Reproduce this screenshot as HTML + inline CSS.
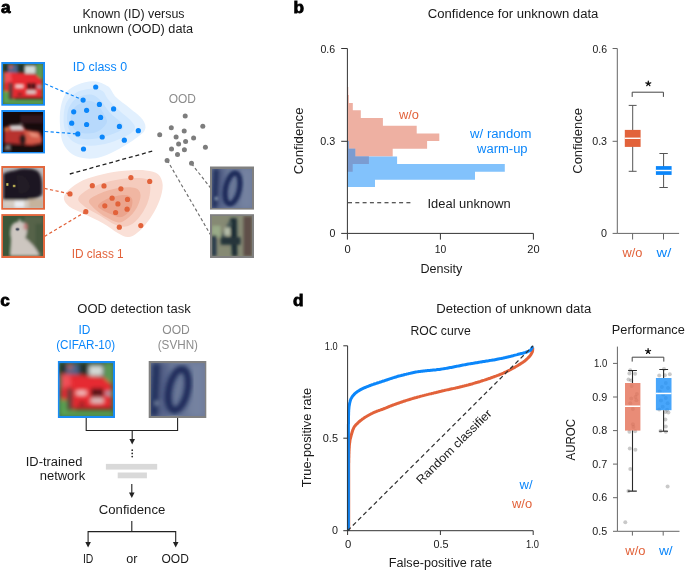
<!DOCTYPE html><html><head><meta charset="utf-8"><style>html,body{margin:0;padding:0;background:#fff;}svg{display:block;will-change:transform;}text{font-family:"Liberation Sans",sans-serif;}</style></head><body>
<svg width="685" height="570" viewBox="0 0 685 570">
<defs><filter id="bl" x="-5%" y="-5%" width="110%" height="110%"><feGaussianBlur stdDeviation="1.5"/></filter><filter id="bl2" x="-5%" y="-5%" width="110%" height="110%"><feGaussianBlur stdDeviation="0.7"/></filter><filter id="bl4" x="-5%" y="-5%" width="110%" height="110%"><feGaussianBlur stdDeviation="1.8"/></filter><filter id="bl3" x="-5%" y="-5%" width="110%" height="110%"><feGaussianBlur stdDeviation="2.2"/></filter></defs>
<rect width="685" height="570" fill="#fff"/>
<text x="0.9" y="13.1" font-size="17.2" fill="#000" text-anchor="start" font-weight="bold" stroke="#000" stroke-width="0.8">a</text>
<text x="293.4" y="13.1" font-size="17.2" fill="#000" text-anchor="start" font-weight="bold" stroke="#000" stroke-width="0.8">b</text>
<text x="0.3" y="305.5" font-size="17.2" fill="#000" text-anchor="start" font-weight="bold" stroke="#000" stroke-width="0.8">c</text>
<text x="293" y="305.7" font-size="17.2" fill="#000" text-anchor="start" font-weight="bold" stroke="#000" stroke-width="0.8">d</text>
<text x="82.5" y="18.2" font-size="12.0" fill="#1a1a1a" text-anchor="start" textLength="102.0" lengthAdjust="spacingAndGlyphs" >Known (ID) versus</text>
<text x="73.1" y="32.8" font-size="12.0" fill="#1a1a1a" text-anchor="start" textLength="119.98" lengthAdjust="spacingAndGlyphs" >unknown (OOD) data</text>
<text x="72.7" y="70.5" font-size="12.0" fill="#0b86fa" text-anchor="start" textLength="54.4" lengthAdjust="spacingAndGlyphs" >ID class 0</text>
<text x="71.7" y="257.5" font-size="12.0" fill="#e2623a" text-anchor="start" textLength="52.0" lengthAdjust="spacingAndGlyphs" >ID class 1</text>
<text x="168.7" y="103" font-size="12.0" fill="#8c8c8c" text-anchor="start" textLength="27.2" lengthAdjust="spacingAndGlyphs" >OOD</text>
<path d="M93.9,81.2 C88.9,80.9 82.6,82.6 78.0,84.5 C73.4,86.4 69.4,88.7 66.5,92.4 C63.6,96.1 61.9,101.3 60.8,106.8 C59.7,112.3 59.6,119.5 60.0,125.5 C60.4,131.5 60.9,138.0 62.9,142.8 C65.0,147.6 68.3,151.7 72.3,154.3 C76.3,156.9 81.7,158.2 86.7,158.6 C91.7,159.0 97.0,158.2 102.5,156.5 C108.0,154.8 114.3,151.5 119.8,148.5 C125.3,145.5 131.4,141.6 135.6,138.5 C139.8,135.4 143.8,132.9 145.0,129.8 C146.2,126.7 145.3,123.3 142.8,119.7 C140.3,116.1 134.5,112.0 129.9,108.2 C125.4,104.4 119.1,100.3 115.5,96.7 C111.9,93.1 111.9,89.2 108.3,86.6 C104.7,84.0 99.0,81.5 93.9,81.2Z" fill="#e2f0fe"/>
<path d="M92.4,88.8 C88.1,89.0 80.9,90.1 76.6,92.4 C72.3,94.7 68.7,98.2 66.5,102.5 C64.3,106.8 63.7,113.3 63.6,118.3 C63.5,123.3 63.9,128.6 65.8,132.7 C67.7,136.8 71.0,140.6 75.2,142.8 C79.4,145.0 85.2,145.7 91.0,145.7 C96.8,145.7 103.7,144.5 109.7,142.8 C115.7,141.1 122.8,138.0 127.0,135.6 C131.2,133.2 134.2,130.8 134.9,128.4 C135.6,126.0 133.8,124.1 131.3,121.2 C128.8,118.3 123.6,114.7 119.8,111.1 C116.0,107.5 111.2,102.9 108.3,99.6 C105.4,96.2 105.2,92.8 102.5,91.0 C99.8,89.2 96.7,88.6 92.4,88.8Z" fill="#d2e8fe"/>
<path d="M91.0,94.6 C86.9,94.1 80.3,95.9 76.6,98.2 C72.9,100.5 70.3,104.4 68.7,108.2 C67.1,112.0 66.9,117.1 67.2,121.2 C67.5,125.3 68.5,129.8 70.8,132.7 C73.1,135.6 76.6,137.5 80.9,138.5 C85.2,139.5 91.4,139.2 96.7,138.5 C102.0,137.8 108.3,135.8 112.6,134.1 C116.9,132.4 121.3,130.3 122.7,128.4 C124.1,126.5 123.4,125.2 121.2,122.6 C119.0,119.9 113.1,116.1 109.7,112.5 C106.3,108.9 104.2,104.0 101.1,101.0 C98.0,98.0 95.1,95.1 91.0,94.6Z" fill="#c3e0fd"/>
<path d="M88.1,101.0 C84.5,101.5 78.1,104.1 75.2,106.8 C72.3,109.5 71.0,113.3 70.8,116.9 C70.5,120.5 71.3,125.7 73.7,128.4 C76.1,131.2 81.1,132.9 85.2,133.4 C89.3,133.9 94.6,133.1 98.2,131.3 C101.8,129.5 105.8,125.5 106.8,122.6 C107.8,119.7 105.6,117.1 103.9,114.0 C102.2,110.9 99.3,106.1 96.7,103.9 C94.1,101.7 91.7,100.5 88.1,101.0Z" fill="#b7d9fc"/>
<path d="M63.8,198.0 C63.8,195.2 66.0,192.4 69.2,189.5 C72.4,186.6 77.4,182.9 83.0,180.3 C88.6,177.8 96.0,175.8 102.9,174.2 C109.8,172.6 117.2,171.4 124.4,170.8 C131.6,170.2 140.2,169.8 145.8,170.4 C151.4,171.0 155.3,171.8 158.1,174.2 C160.9,176.6 162.4,180.6 162.7,184.9 C162.9,189.2 161.4,195.2 159.6,200.3 C157.8,205.4 155.1,210.8 152.0,215.6 C148.9,220.4 145.0,225.8 141.2,229.4 C137.4,233.0 132.8,236.4 129.0,237.0 C125.2,237.6 122.5,235.5 118.2,233.2 C113.9,230.9 108.5,226.4 102.9,223.2 C97.3,220.0 90.1,216.8 84.5,214.0 C78.9,211.2 72.7,209.1 69.2,206.4 C65.8,203.7 63.8,200.8 63.8,198.0Z" fill="#fae0d7"/>
<path d="M78.4,198.0 C79.4,194.9 85.3,190.8 90.7,188.0 C96.1,185.2 103.7,182.8 110.6,181.1 C117.5,179.4 125.9,178.2 132.0,178.0 C138.1,177.8 144.3,177.9 147.4,179.6 C150.5,181.3 150.4,184.1 150.4,188.0 C150.4,191.9 149.4,198.2 147.4,203.3 C145.4,208.4 141.5,214.8 138.2,218.6 C134.9,222.4 131.2,225.3 127.4,226.3 C123.6,227.3 119.8,226.6 115.2,224.8 C110.6,223.0 105.0,218.7 99.9,215.6 C94.8,212.5 88.1,209.3 84.5,206.4 C80.9,203.5 77.4,201.1 78.4,198.0Z" fill="#f5cbbd"/>
<path d="M89.1,200.3 C90.1,197.9 95.1,195.5 99.9,193.4 C104.8,191.3 112.3,188.9 118.2,188.0 C124.1,187.1 131.4,186.8 135.1,188.0 C138.8,189.2 140.2,191.6 140.5,194.9 C140.8,198.2 138.8,204.0 136.6,207.9 C134.4,211.8 130.5,216.2 127.4,218.6 C124.3,221.0 121.8,222.8 118.2,222.5 C114.6,222.2 110.1,219.5 106.0,217.1 C101.9,214.7 96.5,210.7 93.7,207.9 C90.9,205.1 88.1,202.7 89.1,200.3Z" fill="#f0b6a2"/>
<path d="M98.3,204.9 C99.6,203.0 104.7,199.7 109.0,198.0 C113.3,196.3 120.6,194.8 124.4,194.9 C128.2,195.0 131.0,196.3 132.0,198.7 C133.0,201.1 132.3,206.4 130.5,209.5 C128.7,212.6 124.6,216.3 121.3,217.1 C118.0,217.8 113.9,215.3 110.6,214.0 C107.3,212.7 103.5,211.0 101.4,209.5 C99.4,208.0 97.0,206.8 98.3,204.9Z" fill="#eba48d"/>
<path d="M45,83.8 L83.1,100.1" stroke="#0b86fa" stroke-width="1.2" stroke-dasharray="3.2,2.4" fill="none"/>
<path d="M45,131.5 L77.8,133.9" stroke="#0b86fa" stroke-width="1.2" stroke-dasharray="3.2,2.4" fill="none"/>
<path d="M44.5,188.4 L70,193.9" stroke="#e2623a" stroke-width="1.2" stroke-dasharray="3.2,2.4" fill="none"/>
<path d="M44.5,236.4 L85.8,211.7" stroke="#e2623a" stroke-width="1.2" stroke-dasharray="3.2,2.4" fill="none"/>
<path d="M69.8,174 L152.2,151.2" stroke="#222" stroke-width="1.3" stroke-dasharray="4,2.8" fill="none"/>
<path d="M167.2,160.2 L210.5,234.8" stroke="#6e6e6e" stroke-width="1.15" stroke-dasharray="3.2,2.4" fill="none"/>
<path d="M191.5,163.7 L210.5,187.8" stroke="#6e6e6e" stroke-width="1.15" stroke-dasharray="3.2,2.4" fill="none"/>
<circle cx="95.7" cy="87.0" r="2.6" fill="#0b86fa"/>
<circle cx="83.1" cy="100.1" r="2.6" fill="#0b86fa"/>
<circle cx="99.4" cy="104.4" r="2.6" fill="#0b86fa"/>
<circle cx="113.6" cy="108.9" r="2.6" fill="#0b86fa"/>
<circle cx="73.7" cy="111.8" r="2.6" fill="#0b86fa"/>
<circle cx="86.6" cy="110.3" r="2.6" fill="#0b86fa"/>
<circle cx="100.6" cy="117.4" r="2.6" fill="#0b86fa"/>
<circle cx="71.7" cy="123.2" r="2.6" fill="#0b86fa"/>
<circle cx="86.6" cy="124.5" r="2.6" fill="#0b86fa"/>
<circle cx="119.4" cy="126.4" r="2.6" fill="#0b86fa"/>
<circle cx="138.3" cy="130.7" r="2.6" fill="#0b86fa"/>
<circle cx="77.8" cy="133.9" r="2.6" fill="#0b86fa"/>
<circle cx="102.2" cy="137.0" r="2.6" fill="#0b86fa"/>
<circle cx="124.3" cy="140.2" r="2.6" fill="#0b86fa"/>
<circle cx="83.5" cy="149.0" r="2.6" fill="#0b86fa"/>
<circle cx="130.9" cy="177.6" r="2.6" fill="#e2623a"/>
<circle cx="149.7" cy="181.4" r="2.6" fill="#e2623a"/>
<circle cx="92.3" cy="185.7" r="2.6" fill="#e2623a"/>
<circle cx="104.0" cy="185.9" r="2.6" fill="#e2623a"/>
<circle cx="120.9" cy="188.8" r="2.6" fill="#e2623a"/>
<circle cx="70.0" cy="193.9" r="2.6" fill="#e2623a"/>
<circle cx="112.1" cy="198.2" r="2.6" fill="#e2623a"/>
<circle cx="127.5" cy="199.4" r="2.6" fill="#e2623a"/>
<circle cx="117.9" cy="203.9" r="2.6" fill="#e2623a"/>
<circle cx="104.8" cy="205.8" r="2.6" fill="#e2623a"/>
<circle cx="127.1" cy="209.2" r="2.6" fill="#e2623a"/>
<circle cx="115.6" cy="212.5" r="2.6" fill="#e2623a"/>
<circle cx="85.8" cy="211.7" r="2.6" fill="#e2623a"/>
<circle cx="119.3" cy="227.2" r="2.6" fill="#e2623a"/>
<circle cx="140.8" cy="225.6" r="2.6" fill="#e2623a"/>
<circle cx="185.2" cy="116.0" r="2.5" fill="#7d7d7d"/>
<circle cx="171.3" cy="127.7" r="2.5" fill="#7d7d7d"/>
<circle cx="202.8" cy="126.3" r="2.5" fill="#7d7d7d"/>
<circle cx="184.2" cy="131.0" r="2.5" fill="#7d7d7d"/>
<circle cx="159.7" cy="134.8" r="2.5" fill="#7d7d7d"/>
<circle cx="176.1" cy="137.1" r="2.5" fill="#7d7d7d"/>
<circle cx="193.6" cy="137.9" r="2.5" fill="#7d7d7d"/>
<circle cx="185.6" cy="141.6" r="2.5" fill="#7d7d7d"/>
<circle cx="178.6" cy="144.1" r="2.5" fill="#7d7d7d"/>
<circle cx="205.4" cy="147.2" r="2.5" fill="#7d7d7d"/>
<circle cx="171.5" cy="148.9" r="2.5" fill="#7d7d7d"/>
<circle cx="184.4" cy="149.7" r="2.5" fill="#7d7d7d"/>
<circle cx="177.5" cy="154.5" r="2.5" fill="#7d7d7d"/>
<circle cx="167.1" cy="160.4" r="2.5" fill="#7d7d7d"/>
<circle cx="191.5" cy="163.2" r="2.5" fill="#7d7d7d"/>
<rect x="1.3" y="62" width="43.7" height="43.7" fill="#1a8cf5"/>
<svg x="3.3" y="64" width="39.7" height="39.7" overflow="hidden"><g transform="translate(0,0) scale(0.9452380952380953)"><rect x="0" y="0" width="42" height="42" fill="#426e40"/><g filter="url(#bl4)"><rect x="0" y="0" width="42" height="11" fill="#24302a"/><rect x="5" y="1" width="10" height="8" fill="#4c6488"/><rect x="6" y="1" width="4" height="4" fill="#b06068"/><rect x="23" y="2" width="11" height="8" fill="#d4dad6"/><rect x="35" y="0" width="7" height="15" fill="#5c9a56"/><path d="M1,9 L9,9 L34,11 L41,17 L41,36 L12,37 L6,34 L1,30Z" fill="#e62a30"/><path d="M1,9 L8,9 L9,18 L1,20Z" fill="#f05058"/><rect x="0" y="29" width="6" height="13" fill="#5aa452"/><rect x="5.5" y="20" width="4.5" height="17" fill="#603a3a"/><rect x="13" y="22" width="8" height="3.2" fill="#f4d2d2"/><rect x="25" y="20" width="4.2" height="6.5" fill="#1a1212"/><rect x="30" y="20" width="4.2" height="6.5" fill="#1a1212"/><rect x="36" y="22.5" width="4.5" height="3" fill="#a0a8bc"/><rect x="24.5" y="28" width="10" height="3.5" fill="#d8d0d0"/><rect x="15" y="31" width="5" height="2" fill="#401a1a"/><rect x="12" y="35.5" width="30" height="2.5" fill="#2c1a1a"/><rect x="0" y="38" width="42" height="4" fill="#5ca454"/></g></g></svg>
<rect x="1.3" y="110" width="43.7" height="43.400000000000006" fill="#1a8cf5"/>
<svg x="3.3" y="112" width="39.7" height="39.400000000000006" overflow="hidden"><g transform="translate(0,0) scale(0.9452380952380953)"><rect x="0" y="0" width="42" height="42" fill="#160a0c"/><g filter="url(#bl)"><rect x="18" y="3" width="24" height="9" fill="#30181c"/><path d="M1,17 L7,14 L20,14 L24,19 L38,21 L41,27 L41,33 L30,35 L1,33Z" fill="#b8322f"/><path d="M22,19 L38,21 L41,28 L40,33 L24,34Z" fill="#d45a48"/><path d="M26,21 L36,23 L38,27 L30,26Z" fill="#e8907a"/><rect x="1" y="16" width="5" height="4" fill="#d07040"/><path d="M7,14 L19,13.5 L22,19 L8,19Z" fill="#d4cccc"/><ellipse cx="20.5" cy="29" rx="3.5" ry="5.5" fill="#2a1a1a"/><rect x="0" y="35" width="42" height="7" fill="#120a0c"/><path d="M2,40 L7,35 M3,35 L7,40" stroke="#a8a0a0" stroke-width="1.3"/></g></g></svg>
<rect x="1.3" y="166" width="43.7" height="43.69999999999999" fill="#e2673d"/>
<svg x="3.3" y="168" width="39.7" height="39.69999999999999" overflow="hidden"><g transform="translate(0,0) scale(0.9452380952380953)"><rect x="0" y="0" width="42" height="42" fill="#bdb9bb"/><g filter="url(#bl)"><path d="M0,6 C6,3 10,3 14,2 C20,0 30,0 36,3 C40,6 41,12 41,18 L41,28 C38,32 30,33 24,34 L10,35 L0,35Z" fill="#1d1920"/><path d="M14,8 C20,6 26,10 28,20 C26,26 20,28 16,26Z" fill="#241c26"/><rect x="0" y="34" width="42" height="8" fill="#d4ccc2"/><rect x="12" y="35" width="10" height="7" fill="#eceef2"/><rect x="27" y="33" width="15" height="9" fill="#c6b39c"/></g><rect x="3.2" y="16" width="2.2" height="2.8" fill="#cfc25a" filter="url(#bl2)"/><rect x="10.2" y="17.8" width="2.4" height="2.4" fill="#cfc25a" filter="url(#bl2)"/></g></svg>
<rect x="1.3" y="214.1" width="43.7" height="43.900000000000006" fill="#e2673d"/>
<svg x="3.3" y="216.1" width="39.7" height="39.900000000000006" overflow="hidden"><g transform="translate(0,0) scale(0.9452380952380953)"><rect x="0" y="0" width="42" height="42" fill="#3c5639"/><g filter="url(#bl)"><rect x="22" y="0" width="20" height="42" fill="#56644a"/><rect x="34" y="8" width="8" height="30" fill="#4a5a40"/><path d="M8,12 C9,8 13,6 16,6 L17,2 L19,6 C22,6 25,9 25,14 C25,18 24,21 23,23 C27,26 31,30 34,34 C37,38 38,42 38,42 L7,42 C7,36 8,30 8,24 C7,20 7,16 8,12Z" fill="#cdc6c0"/><ellipse cx="23.5" cy="11" rx="2" ry="3.5" fill="#c27c7c"/></g><ellipse cx="15" cy="14" rx="2" ry="1.4" fill="#404658" filter="url(#bl2)"/></g></svg>
<rect x="210" y="166.5" width="44" height="43.099999999999994" fill="#808080"/>
<svg x="212" y="168.5" width="40" height="39.099999999999994" overflow="hidden"><g transform="translate(0,0) scale(0.9523809523809523)"><rect x="0" y="0" width="42" height="42" fill="#6a7898"/><g filter="url(#bl3)"><rect x="0" y="0" width="14" height="42" fill="#56648a"/><rect x="30" y="0" width="12" height="42" fill="#7482a0"/><path d="M1,0 L8,0 L6,42 L-1,42Z" fill="#22305e"/></g><g filter="url(#bl)"><ellipse cx="21.5" cy="21" rx="7.3" ry="16.5" transform="rotate(12 21.5 21)" fill="none" stroke="#1e2a5a" stroke-width="5.5"/><rect x="3" y="30" width="3" height="3" fill="#a0b0c0"/></g></g></svg>
<rect x="210" y="214.2" width="44" height="43.80000000000001" fill="#808080"/>
<svg x="212" y="216.2" width="40" height="39.80000000000001" overflow="hidden"><g transform="translate(0,0) scale(0.9523809523809523)"><rect x="0" y="0" width="42" height="42" fill="#868a74"/><g filter="url(#bl)"><rect x="33" y="0" width="9" height="42" fill="#5e5048"/><rect x="0" y="10" width="9" height="12" fill="#9aac88"/><rect x="0" y="20" width="4.5" height="22" fill="#243448"/><path d="M19,2 L26,2 L26.5,42 L21,42Z" fill="#1a2e34"/><path d="M19,3 L9,22 L13,24 L21,8Z" fill="#4a5a58"/><rect x="9" y="22" width="21" height="8" fill="#26343a"/><rect x="13" y="12" width="6" height="8" fill="#b4bca8"/></g></g></svg>
<text x="427.8" y="18.3" font-size="12.0" fill="#1a1a1a" text-anchor="start" textLength="170.58" lengthAdjust="spacingAndGlyphs" >Confidence for unknown data</text>
<path d="M347.4,87.0 H348.3 V95.0 H348.9 V102.9 H352.8 V110.3 H360.8 V117.9 H382.9 V125.8 H416.7 V133.4 H439.3 V141.0 H427.1 V148.8 H392.7 V156.5 H368.9 V164.0 H352.7 V171.8 H347.4Z" fill="#eeb0a2"/>
<path d="M347.4,141.0 H348.6 V148.8 H355.2 V156.5 H397.1 V164.0 H504.8 V171.8 H475.0 V179.7 H375.0 V186.9 H347.4Z" fill="#82c2fc"/>
<path d="M347.4,141.0 H348.6 V148.8 H355.2 V156.5 H368.9 V164.0 H352.7 V171.8 H347.4Z" fill="#7b9cd1"/>
<path d="M341.2,48.5 H347.4 V233.4 H533.4" stroke="#333333" stroke-width="1" fill="none"/>
<path d="M341.2,141.3 H347.4 M341.2,233.4 H347.4 M347.4,233.4 V239.6 M440.4,233.4 V239.6 M533.4,233.4 V239.6" stroke="#333333" stroke-width="1" fill="none"/>
<text x="320.5" y="52.8" font-size="10.1" fill="#1a1a1a" text-anchor="start" textLength="14.7" lengthAdjust="spacingAndGlyphs" >0.6</text>
<text x="320.3" y="145.0" font-size="10.1" fill="#1a1a1a" text-anchor="start" textLength="15.0" lengthAdjust="spacingAndGlyphs" >0.3</text>
<text x="329.6" y="237.1" font-size="10.1" fill="#1a1a1a" text-anchor="start" textLength="5.9" lengthAdjust="spacingAndGlyphs" >0</text>
<text x="344.6" y="252.7" font-size="10.1" fill="#1a1a1a" text-anchor="start" textLength="6.2" lengthAdjust="spacingAndGlyphs" >0</text>
<text x="434.7" y="252.7" font-size="10.1" fill="#1a1a1a" text-anchor="start" textLength="11.5" lengthAdjust="spacingAndGlyphs" >10</text>
<text x="527.3" y="252.7" font-size="10.1" fill="#1a1a1a" text-anchor="start" textLength="12.3" lengthAdjust="spacingAndGlyphs" >20</text>
<text x="420.4" y="272.5" font-size="12.0" fill="#1a1a1a" text-anchor="start" textLength="41.91" lengthAdjust="spacingAndGlyphs" >Density</text>
<text x="0.00" y="0" font-size="12.0" fill="#1a1a1a" textLength="66.70" lengthAdjust="spacingAndGlyphs" transform="translate(303.2,174.2) rotate(-90)">Confidence</text>
<text x="399.03" y="118.6" font-size="12.0" fill="#e2623a" text-anchor="start" textLength="19.98" lengthAdjust="spacingAndGlyphs" >w/o</text>
<text x="470.13" y="137.7" font-size="12.0" fill="#0b86fa" text-anchor="start" textLength="61.38" lengthAdjust="spacingAndGlyphs" >w/ random</text>
<text x="477.13" y="152.9" font-size="12.0" fill="#0b86fa" text-anchor="start" textLength="50.47" lengthAdjust="spacingAndGlyphs" >warm-up</text>
<path d="M348,202.8 H413.6" stroke="#222" stroke-width="1.1" stroke-dasharray="4,3.3" fill="none"/>
<text x="427.5" y="207.9" font-size="12.0" fill="#1a1a1a" text-anchor="start" textLength="83.3" lengthAdjust="spacingAndGlyphs" >Ideal unknown</text>
<path d="M612.6,48.5 H617.3 V233.4 H679.1 M612.6,141.3 H617.3 M612.6,233.4 H617.3 M632.6,233.4 V239.5 M663.5,233.4 V239.5" stroke="#666666" stroke-width="1" fill="none"/>
<text x="592.5" y="52.8" font-size="10.1" fill="#1a1a1a" text-anchor="start" textLength="14.6" lengthAdjust="spacingAndGlyphs" >0.6</text>
<text x="592.2" y="145.0" font-size="10.1" fill="#1a1a1a" text-anchor="start" textLength="14.9" lengthAdjust="spacingAndGlyphs" >0.3</text>
<text x="601.0" y="237.1" font-size="10.1" fill="#1a1a1a" text-anchor="start" textLength="6.0" lengthAdjust="spacingAndGlyphs" >0</text>
<text x="0.00" y="0" font-size="12.0" fill="#1a1a1a" textLength="65.60" lengthAdjust="spacingAndGlyphs" transform="translate(581.5,173.7) rotate(-90)">Confidence</text>
<text x="622.53" y="257" font-size="12.0" fill="#e2623a" text-anchor="start" textLength="19.98" lengthAdjust="spacingAndGlyphs" >w/o</text>
<text x="656.63" y="257" font-size="12.0" fill="#0b86fa" text-anchor="start" textLength="14.67" lengthAdjust="spacingAndGlyphs" >w/</text>
<path d="M632.2,96.9 V92.2 H663.4 V96.9" stroke="#444" stroke-width="1" fill="none"/>
<path d="M648.30,83.60 L648.30,81.00 M648.30,83.60 L650.77,82.80 M648.30,83.60 L649.83,85.70 M648.30,83.60 L646.77,85.70 M648.30,83.60 L645.83,82.80 " stroke="#111" stroke-width="1.25" stroke-linecap="round" fill="none"/>
<path d="M632.7,105.4 V171.3 M628.7,105.4 H636.6 M628.7,171.3 H636.6" stroke="#555" stroke-width="1" fill="none"/>
<rect x="624.8" y="129.9" width="15.8" height="17" fill="#e2623a"/>
<rect x="624.8" y="137.6" width="15.8" height="1.35" fill="#fff"/>
<path d="M663.6,153.5 V187.5 M659.4,153.5 H667.8 M659.4,187.5 H667.8" stroke="#555" stroke-width="1" fill="none"/>
<rect x="655.9" y="166.1" width="15.7" height="8.8" fill="#0b86fa"/>
<rect x="655.9" y="169.8" width="15.7" height="1.4" fill="#fff"/>
<text x="77.3" y="312.6" font-size="12.0" fill="#1a1a1a" text-anchor="start" textLength="113.38" lengthAdjust="spacingAndGlyphs" >OOD detection task</text>
<text x="78.5" y="334.1" font-size="12.0" fill="#0b86fa" text-anchor="start" textLength="11.9" lengthAdjust="spacingAndGlyphs" >ID</text>
<text x="56.2" y="348.5" font-size="12.0" fill="#0b86fa" text-anchor="start" textLength="59.0" lengthAdjust="spacingAndGlyphs" >(CIFAR-10)</text>
<text x="162.3" y="334.1" font-size="12.0" fill="#8c8c8c" text-anchor="start" textLength="27.5" lengthAdjust="spacingAndGlyphs" >OOD</text>
<text x="157.7" y="348.8" font-size="12.0" fill="#8c8c8c" text-anchor="start" textLength="40.3" lengthAdjust="spacingAndGlyphs" >(SVHN)</text>
<rect x="57.9" y="361" width="57.1" height="57" fill="#1a8cf5"/>
<svg x="59.9" y="363" width="53.1" height="53" overflow="hidden"><g transform="translate(0,0) scale(1.2642857142857142)"><rect x="0" y="0" width="42" height="42" fill="#426e40"/><g filter="url(#bl4)"><rect x="0" y="0" width="42" height="11" fill="#24302a"/><rect x="5" y="1" width="10" height="8" fill="#4c6488"/><rect x="6" y="1" width="4" height="4" fill="#b06068"/><rect x="23" y="2" width="11" height="8" fill="#d4dad6"/><rect x="35" y="0" width="7" height="15" fill="#5c9a56"/><path d="M1,9 L9,9 L34,11 L41,17 L41,36 L12,37 L6,34 L1,30Z" fill="#e62a30"/><path d="M1,9 L8,9 L9,18 L1,20Z" fill="#f05058"/><rect x="0" y="29" width="6" height="13" fill="#5aa452"/><rect x="5.5" y="20" width="4.5" height="17" fill="#603a3a"/><rect x="13" y="22" width="8" height="3.2" fill="#f4d2d2"/><rect x="25" y="20" width="4.2" height="6.5" fill="#1a1212"/><rect x="30" y="20" width="4.2" height="6.5" fill="#1a1212"/><rect x="36" y="22.5" width="4.5" height="3" fill="#a0a8bc"/><rect x="24.5" y="28" width="10" height="3.5" fill="#d8d0d0"/><rect x="15" y="31" width="5" height="2" fill="#401a1a"/><rect x="12" y="35.5" width="30" height="2.5" fill="#2c1a1a"/><rect x="0" y="38" width="42" height="4" fill="#5ca454"/></g></g></svg>
<rect x="148.7" y="361" width="57.60000000000002" height="57" fill="#808080"/>
<svg x="150.7" y="363" width="53.60000000000002" height="53" overflow="hidden"><g transform="translate(0,0) scale(1.2761904761904768)"><rect x="0" y="0" width="42" height="42" fill="#6a7898"/><g filter="url(#bl3)"><rect x="0" y="0" width="14" height="42" fill="#56648a"/><rect x="30" y="0" width="12" height="42" fill="#7482a0"/><path d="M1,0 L8,0 L6,42 L-1,42Z" fill="#22305e"/></g><g filter="url(#bl)"><ellipse cx="21.5" cy="21" rx="7.3" ry="16.5" transform="rotate(12 21.5 21)" fill="none" stroke="#1e2a5a" stroke-width="5.5"/><rect x="3" y="30" width="3" height="3" fill="#a0b0c0"/></g></g></svg>
<path d="M86.2,418 V430.5 H177.6 V418 M132.2,430.5 V440" stroke="#222" stroke-width="1.1" fill="none"/>
<path d="M129.4,439 L135,439 L132.2,444.5Z" fill="#222"/>
<circle cx="132.2" cy="450.2" r="0.85" fill="#222"/>
<circle cx="132.2" cy="453.4" r="0.85" fill="#222"/>
<circle cx="132.2" cy="456.6" r="0.85" fill="#222"/>
<rect x="105.9" y="463.9" width="51.3" height="5.7" fill="#d9d9d9"/>
<rect x="117.7" y="472.5" width="29.2" height="5.8" fill="#d9d9d9"/>
<text x="25.8" y="466.2" font-size="12.0" fill="#1a1a1a" text-anchor="start" textLength="56.5" lengthAdjust="spacingAndGlyphs" >ID-trained</text>
<text x="39.7" y="480.4" font-size="12.0" fill="#1a1a1a" text-anchor="start" textLength="45.48" lengthAdjust="spacingAndGlyphs" >network</text>
<path d="M131.8,484 V494 M131.8,521 V531.6 M88.1,543 V531.6 H175.7 V543" stroke="#222" stroke-width="1.1" fill="none"/>
<path d="M129.0,492.4 L134.60000000000002,492.4 L131.8,497.9Z" fill="#222"/>
<path d="M85.3,542.0 L90.89999999999999,542.0 L88.1,547.5Z" fill="#222"/>
<path d="M172.89999999999998,542.0 L178.5,542.0 L175.7,547.5Z" fill="#222"/>
<text x="98.8" y="513.5" font-size="12.0" fill="#1a1a1a" text-anchor="start" textLength="66.5" lengthAdjust="spacingAndGlyphs" >Confidence</text>
<text x="82.9" y="562.7" font-size="12.0" fill="#1a1a1a" text-anchor="start" textLength="10.4" lengthAdjust="spacingAndGlyphs" >ID</text>
<text x="126.3" y="562.7" font-size="12.0" fill="#1a1a1a" text-anchor="start" textLength="11.2" lengthAdjust="spacingAndGlyphs" >or</text>
<text x="161.5" y="562.7" font-size="12.0" fill="#1a1a1a" text-anchor="start" textLength="27.3" lengthAdjust="spacingAndGlyphs" >OOD</text>
<text x="436.2" y="312.9" font-size="12.0" fill="#1a1a1a" text-anchor="start" textLength="155.09" lengthAdjust="spacingAndGlyphs" >Detection of unknown data</text>
<text x="410.4" y="334.5" font-size="12.0" fill="#1a1a1a" text-anchor="start" textLength="60.3" lengthAdjust="spacingAndGlyphs" >ROC curve</text>
<text x="611.8" y="334.2" font-size="12.0" fill="#1a1a1a" text-anchor="start" textLength="73.0" lengthAdjust="spacingAndGlyphs" >Performance</text>
<text x="324.8" y="349.6" font-size="10.1" fill="#1a1a1a" text-anchor="start" textLength="12.8" lengthAdjust="spacingAndGlyphs" >1.0</text>
<text x="322.8" y="441.9" font-size="10.1" fill="#1a1a1a" text-anchor="start" textLength="15.2" lengthAdjust="spacingAndGlyphs" >0.5</text>
<text x="332.0" y="534.4" font-size="10.1" fill="#1a1a1a" text-anchor="start" textLength="6.0" lengthAdjust="spacingAndGlyphs" >0</text>
<text x="345.1" y="548.3" font-size="10.1" fill="#1a1a1a" text-anchor="start" textLength="6.3" lengthAdjust="spacingAndGlyphs" >0</text>
<text x="433.5" y="547.9" font-size="10.1" fill="#1a1a1a" text-anchor="start" textLength="15.1" lengthAdjust="spacingAndGlyphs" >0.5</text>
<text x="525.9" y="548" font-size="10.1" fill="#1a1a1a" text-anchor="start" textLength="13.0" lengthAdjust="spacingAndGlyphs" >1.0</text>
<text x="388.8" y="567.2" font-size="12.0" fill="#1a1a1a" text-anchor="start" textLength="103.3" lengthAdjust="spacingAndGlyphs" >False-positive rate</text>
<text x="0.00" y="0" font-size="12.0" fill="#1a1a1a" textLength="99.40" lengthAdjust="spacingAndGlyphs" transform="translate(311,487.3) rotate(-90)">True-positive rate</text>
<text x="0.00" y="0" font-size="12.0" fill="#1a1a1a" textLength="100.50" lengthAdjust="spacingAndGlyphs" transform="translate(421,484.8) rotate(-44.6)">Random classifier</text>
<path d="M348.7,530.7 L348.7,529.7 L348.7,528.7 L348.7,527.6 L348.7,526.6 L348.7,525.6 L348.7,524.6 L348.7,523.6 L348.7,522.6 L348.7,521.5 L348.7,520.5 L348.7,519.5 L348.7,518.5 L348.7,517.5 L348.7,516.4 L348.7,515.4 L348.7,514.4 L348.7,513.4 L348.7,512.4 L348.7,511.4 L348.7,510.3 L348.7,509.3 L348.7,508.3 L348.7,507.3 L348.7,506.3 L348.7,505.2 L348.7,504.2 L348.7,503.2 L348.7,502.2 L348.7,501.2 L348.7,500.2 L348.7,499.1 L348.7,498.1 L348.7,497.1 L348.7,496.1 L348.7,495.1 L348.7,494.1 L348.7,493.0 L348.7,492.0 L348.7,491.0 L348.7,490.0 L348.7,489.0 L348.7,487.9 L348.7,486.9 L348.7,485.9 L348.7,484.9 L348.7,483.9 L348.7,482.9 L348.7,481.8 L348.7,480.8 L348.7,479.8 L348.7,478.8 L348.7,477.8 L348.7,476.7 L348.7,475.7 L348.7,474.7 L348.7,473.7 L348.7,472.7 L348.7,471.7 L348.7,470.6 L348.7,469.6 L348.7,468.6 L348.7,467.6 L348.7,466.6 L348.7,465.5 L348.7,464.5 L348.7,463.5 L348.8,462.5 L348.8,461.5 L348.8,460.5 L348.8,459.4 L348.8,458.4 L348.9,457.4 L348.9,456.4 L348.9,455.4 L348.9,454.3 L349.0,453.3 L349.0,452.3 L349.0,451.3 L349.1,450.3 L349.1,449.3 L349.2,448.2 L349.3,447.2 L349.3,446.2 L349.4,445.2 L349.5,444.2 L349.6,443.2 L349.8,442.2 L349.9,441.2 L350.0,440.1 L350.2,439.1 L350.5,438.2 L350.7,437.2 L351.0,436.2 L351.2,435.2 L351.5,434.2 L351.8,433.2 L352.1,432.2 L352.4,431.2 L352.7,430.2 L353.1,429.3 L353.5,428.4 L353.9,427.5 L354.4,426.7 L355.0,425.9 L355.7,425.1 L356.4,424.3 L357.2,423.6 L357.9,422.9 L358.6,422.2 L359.4,421.5 L360.2,420.8 L361.0,420.2 L361.8,419.6 L362.6,418.9 L363.4,418.4 L364.3,417.8 L365.1,417.2 L366.0,416.7 L366.8,416.2 L367.7,415.7 L368.6,415.2 L369.5,414.7 L370.4,414.2 L371.3,413.7 L372.3,413.3 L373.2,412.8 L374.1,412.4 L375.0,412.0 L376.0,411.6 L376.9,411.2 L377.9,410.9 L378.8,410.5 L379.8,410.2 L380.7,409.9 L381.7,409.5 L382.7,409.2 L383.6,408.8 L384.6,408.5 L385.5,408.1 L386.5,407.7 L387.4,407.3 L388.3,406.9 L389.3,406.5 L390.2,406.1 L391.2,405.8 L392.1,405.4 L393.1,405.0 L394.0,404.7 L395.0,404.3 L395.9,404.0 L396.9,403.6 L397.9,403.3 L398.8,403.0 L399.8,402.6 L400.7,402.3 L401.7,402.0 L402.7,401.6 L403.6,401.3 L404.6,401.0 L405.6,400.7 L406.5,400.4 L407.5,400.1 L408.5,399.8 L409.5,399.5 L410.4,399.2 L411.4,398.9 L412.4,398.6 L413.4,398.3 L414.3,398.0 L415.3,397.7 L416.3,397.5 L417.3,397.2 L418.3,396.9 L419.2,396.7 L420.2,396.4 L421.2,396.1 L422.2,395.9 L423.2,395.6 L424.2,395.4 L425.1,395.1 L426.1,394.9 L427.1,394.6 L428.1,394.4 L429.1,394.1 L430.1,393.9 L431.1,393.7 L432.1,393.4 L433.1,393.2 L434.1,392.9 L435.0,392.7 L436.0,392.5 L437.0,392.2 L438.0,392.0 L439.0,391.7 L440.0,391.5 L441.0,391.3 L442.0,391.0 L443.0,390.8 L444.0,390.6 L444.9,390.3 L445.9,390.1 L446.9,389.9 L447.9,389.7 L448.9,389.5 L449.9,389.2 L450.9,389.0 L451.9,388.8 L452.9,388.6 L453.9,388.4 L454.9,388.2 L455.9,387.9 L456.9,387.7 L457.9,387.5 L458.9,387.3 L459.9,387.0 L460.9,386.8 L461.8,386.6 L462.8,386.3 L463.8,386.1 L464.8,385.8 L465.8,385.6 L466.8,385.3 L467.8,385.1 L468.7,384.8 L469.7,384.5 L470.7,384.2 L471.7,384.0 L472.7,383.7 L473.6,383.4 L474.6,383.1 L475.6,382.8 L476.6,382.5 L477.5,382.3 L478.5,382.0 L479.5,381.7 L480.5,381.4 L481.4,381.0 L482.4,380.7 L483.4,380.4 L484.4,380.1 L485.3,379.8 L486.3,379.5 L487.3,379.1 L488.2,378.8 L489.2,378.5 L490.2,378.2 L491.1,377.8 L492.1,377.5 L493.0,377.1 L494.0,376.8 L494.9,376.4 L495.9,376.1 L496.9,375.7 L497.8,375.4 L498.7,375.0 L499.7,374.6 L500.6,374.2 L501.6,373.9 L502.5,373.5 L503.4,373.1 L504.4,372.6 L505.3,372.2 L506.2,371.8 L507.1,371.3 L508.1,370.9 L509.0,370.4 L509.9,370.0 L510.8,369.5 L511.7,369.0 L512.6,368.5 L513.5,368.0 L514.4,367.6 L515.2,367.0 L516.1,366.5 L517.0,366.0 L517.9,365.5 L518.7,364.9 L519.6,364.4 L520.5,363.9 L521.3,363.3 L522.2,362.7 L523.0,362.2 L523.9,361.6 L524.7,361.0 L525.5,360.3 L526.2,359.7 L527.0,359.0 L527.7,358.3 L528.4,357.5 L529.2,356.8 L529.8,356.0 L530.5,355.2 L531.0,354.4 L531.5,353.5 L532.0,352.6 L532.4,351.6 L532.6,350.7 L532.7,349.6 L532.7,348.6 L532.8,347.6" stroke="#e2623a" stroke-width="3" fill="none" stroke-linejoin="round"/>
<path d="M348.4,530.7 L348.4,529.6 L348.4,528.5 L348.4,527.5 L348.4,526.4 L348.4,525.3 L348.4,524.2 L348.4,523.1 L348.4,522.0 L348.4,521.0 L348.4,519.9 L348.4,518.8 L348.4,517.7 L348.4,516.6 L348.4,515.5 L348.4,514.5 L348.4,513.4 L348.4,512.3 L348.4,511.2 L348.4,510.1 L348.4,509.0 L348.4,508.0 L348.4,506.9 L348.4,505.8 L348.4,504.7 L348.4,503.6 L348.4,502.5 L348.4,501.5 L348.4,500.4 L348.4,499.3 L348.4,498.2 L348.4,497.1 L348.4,496.0 L348.4,495.0 L348.4,493.9 L348.4,492.8 L348.4,491.7 L348.4,490.6 L348.4,489.5 L348.4,488.5 L348.4,487.4 L348.4,486.3 L348.4,485.2 L348.4,484.1 L348.4,483.0 L348.4,482.0 L348.4,480.9 L348.4,479.8 L348.4,478.7 L348.4,477.6 L348.4,476.5 L348.4,475.5 L348.4,474.4 L348.4,473.3 L348.4,472.2 L348.4,471.1 L348.4,470.0 L348.4,469.0 L348.4,467.9 L348.4,466.8 L348.4,465.7 L348.4,464.6 L348.4,463.5 L348.4,462.5 L348.4,461.4 L348.4,460.3 L348.4,459.2 L348.4,458.1 L348.4,457.0 L348.4,456.0 L348.4,454.9 L348.4,453.8 L348.4,452.7 L348.4,451.6 L348.4,450.5 L348.4,449.5 L348.4,448.4 L348.4,447.3 L348.4,446.2 L348.4,445.1 L348.4,444.0 L348.4,443.0 L348.4,441.9 L348.4,440.8 L348.4,439.7 L348.4,438.6 L348.4,437.5 L348.4,436.5 L348.4,435.4 L348.4,434.3 L348.4,433.2 L348.4,432.1 L348.4,431.0 L348.4,430.0 L348.4,428.9 L348.4,427.8 L348.4,426.7 L348.4,425.6 L348.4,424.5 L348.5,423.5 L348.5,422.4 L348.5,421.3 L348.5,420.2 L348.5,419.1 L348.5,418.0 L348.5,417.0 L348.5,415.9 L348.6,414.8 L348.6,413.7 L348.6,412.6 L348.7,411.5 L348.7,410.5 L348.8,409.4 L348.9,408.3 L349.0,407.2 L349.1,406.1 L349.3,405.1 L349.5,404.0 L349.7,402.9 L350.0,401.9 L350.2,400.9 L350.6,399.8 L351.0,398.8 L351.6,397.8 L352.1,396.9 L352.7,396.0 L353.4,395.2 L354.1,394.4 L354.9,393.6 L355.7,392.9 L356.6,392.2 L357.5,391.6 L358.4,391.0 L359.3,390.4 L360.2,389.9 L361.1,389.4 L362.1,388.9 L363.1,388.4 L364.1,387.9 L365.1,387.5 L366.1,387.1 L367.1,386.7 L368.1,386.3 L369.1,385.9 L370.1,385.5 L371.1,385.1 L372.2,384.7 L373.2,384.4 L374.2,384.0 L375.2,383.7 L376.3,383.4 L377.3,383.0 L378.3,382.7 L379.4,382.4 L380.4,382.0 L381.4,381.7 L382.5,381.3 L383.5,381.0 L384.5,380.7 L385.5,380.3 L386.6,380.0 L387.6,379.6 L388.6,379.3 L389.7,378.9 L390.7,378.6 L391.7,378.3 L392.8,377.9 L393.8,377.6 L394.8,377.3 L395.9,377.0 L396.9,376.6 L397.9,376.3 L399.0,376.0 L400.0,375.8 L401.1,375.5 L402.1,375.2 L403.2,375.0 L404.2,374.7 L405.3,374.4 L406.3,374.2 L407.4,373.9 L408.4,373.7 L409.5,373.4 L410.5,373.2 L411.6,372.9 L412.7,372.7 L413.7,372.5 L414.8,372.3 L415.9,372.1 L416.9,371.9 L418.0,371.7 L419.1,371.6 L420.1,371.4 L421.2,371.3 L422.3,371.2 L423.3,371.0 L424.4,370.9 L425.5,370.8 L426.6,370.7 L427.7,370.6 L428.7,370.5 L429.8,370.4 L430.9,370.3 L432.0,370.2 L433.1,370.1 L434.1,370.0 L435.2,369.9 L436.3,369.8 L437.4,369.6 L438.4,369.5 L439.5,369.4 L440.6,369.2 L441.7,369.1 L442.7,368.9 L443.8,368.7 L444.9,368.6 L445.9,368.4 L447.0,368.2 L448.1,368.0 L449.1,367.8 L450.2,367.6 L451.3,367.4 L452.3,367.2 L453.4,367.0 L454.4,366.8 L455.5,366.6 L456.6,366.3 L457.6,366.1 L458.7,365.9 L459.8,365.7 L460.8,365.5 L461.9,365.3 L463.0,365.1 L464.0,364.9 L465.1,364.7 L466.1,364.5 L467.2,364.3 L468.3,364.1 L469.3,363.9 L470.4,363.7 L471.5,363.5 L472.6,363.4 L473.6,363.2 L474.7,363.0 L475.8,362.8 L476.8,362.7 L477.9,362.5 L479.0,362.3 L480.0,362.1 L481.1,362.0 L482.2,361.8 L483.3,361.6 L484.3,361.5 L485.4,361.3 L486.5,361.1 L487.5,360.9 L488.6,360.8 L489.7,360.6 L490.7,360.4 L491.8,360.2 L492.9,360.0 L493.9,359.9 L495.0,359.7 L496.1,359.5 L497.1,359.3 L498.2,359.1 L499.3,358.8 L500.3,358.6 L501.4,358.4 L502.4,358.2 L503.5,358.0 L504.5,357.7 L505.6,357.5 L506.7,357.2 L507.7,357.0 L508.8,356.7 L509.8,356.5 L510.9,356.2 L511.9,355.9 L513.0,355.7 L514.0,355.4 L515.1,355.1 L516.1,354.9 L517.2,354.6 L518.2,354.3 L519.3,354.1 L520.3,353.8 L521.4,353.5 L522.4,353.3 L523.5,353.0 L524.5,352.7 L525.6,352.4 L526.6,352.0 L527.6,351.6 L528.7,351.2 L529.7,350.7 L530.5,350.1 L531.2,349.4 L531.7,348.4 L532.2,347.4 L532.7,346.4" stroke="#0b86fa" stroke-width="3" fill="none" stroke-linejoin="round"/>
<path d="M343.3,345.8 H347.6 V530.7 H533.2 M343.3,438.2 H347.6 M343.3,530.7 H347.6 M347.6,530.7 V535 M440.4,530.7 V535 M533.2,530.7 V535" stroke="#333333" stroke-width="1" fill="none"/>
<path d="M347.6,530.7 L533.2,345.8" stroke="#333" stroke-width="1.25" stroke-dasharray="4.4,3" fill="none"/>
<text x="519.53" y="488.9" font-size="12.0" fill="#0b86fa" text-anchor="start" textLength="13.07" lengthAdjust="spacingAndGlyphs" >w/</text>
<text x="511.93" y="507.7" font-size="12.0" fill="#e2623a" text-anchor="start" textLength="20.18" lengthAdjust="spacingAndGlyphs" >w/o</text>
<path d="M617.4,346.6 V531.3 H679.5" stroke="#666666" stroke-width="1" fill="none"/>
<path d="M613,363.4 H617.4" stroke="#666666" stroke-width="1"/>
<text x="594.0" y="367.09999999999997" font-size="10.1" fill="#1a1a1a" text-anchor="start" textLength="13.2" lengthAdjust="spacingAndGlyphs" >1.0</text>
<path d="M613,397.0 H617.4" stroke="#666666" stroke-width="1"/>
<text x="592.2" y="400.6799999999999" font-size="10.1" fill="#1a1a1a" text-anchor="start" textLength="15.0" lengthAdjust="spacingAndGlyphs" >0.9</text>
<path d="M613,430.6 H617.4" stroke="#666666" stroke-width="1"/>
<text x="592.2" y="434.25999999999993" font-size="10.1" fill="#1a1a1a" text-anchor="start" textLength="15.0" lengthAdjust="spacingAndGlyphs" >0.8</text>
<path d="M613,464.1 H617.4" stroke="#666666" stroke-width="1"/>
<text x="592.2" y="467.84" font-size="10.1" fill="#1a1a1a" text-anchor="start" textLength="15.0" lengthAdjust="spacingAndGlyphs" >0.7</text>
<path d="M613,497.7 H617.4" stroke="#666666" stroke-width="1"/>
<text x="592.2" y="501.41999999999996" font-size="10.1" fill="#1a1a1a" text-anchor="start" textLength="15.0" lengthAdjust="spacingAndGlyphs" >0.6</text>
<path d="M613,531.3 H617.4" stroke="#666666" stroke-width="1"/>
<text x="592.2" y="535.0" font-size="10.1" fill="#1a1a1a" text-anchor="start" textLength="15.0" lengthAdjust="spacingAndGlyphs" >0.5</text>
<path d="M632.4,531.3 V535.6 M663.2,531.3 V535.6" stroke="#666666" stroke-width="1"/>
<text x="625.33" y="555" font-size="12.0" fill="#e2623a" text-anchor="start" textLength="20.18" lengthAdjust="spacingAndGlyphs" >w/o</text>
<text x="658.93" y="555" font-size="12.0" fill="#0b86fa" text-anchor="start" textLength="13.77" lengthAdjust="spacingAndGlyphs" >w/</text>
<text x="0.00" y="0" font-size="12.0" fill="#1a1a1a" textLength="41.50" lengthAdjust="spacingAndGlyphs" transform="translate(575.2,460.4) rotate(-90)">AUROC</text>
<path d="M632.2,361.6 V357.2 H663.8 V361.6" stroke="#444" stroke-width="1" fill="none"/>
<path d="M648.10,351.30 L648.10,348.70 M648.10,351.30 L650.57,350.50 M648.10,351.30 L649.63,353.40 M648.10,351.30 L646.57,353.40 M648.10,351.30 L645.63,350.50 " stroke="#111" stroke-width="1.25" stroke-linecap="round" fill="none"/>
<circle cx="630.3" cy="370.3" r="2" fill="#000" fill-opacity="0.21"/>
<circle cx="635.1" cy="373.8" r="2" fill="#000" fill-opacity="0.21"/>
<circle cx="629.4" cy="373.4" r="2" fill="#000" fill-opacity="0.21"/>
<circle cx="628.5" cy="379.5" r="2" fill="#000" fill-opacity="0.21"/>
<circle cx="631.2" cy="380.4" r="2" fill="#000" fill-opacity="0.21"/>
<circle cx="631.6" cy="386.1" r="2" fill="#000" fill-opacity="0.21"/>
<circle cx="636.9" cy="394" r="2" fill="#000" fill-opacity="0.21"/>
<circle cx="631.2" cy="398.4" r="2" fill="#000" fill-opacity="0.21"/>
<circle cx="635.5" cy="397.1" r="2" fill="#000" fill-opacity="0.21"/>
<circle cx="636.4" cy="400.2" r="2" fill="#000" fill-opacity="0.21"/>
<circle cx="630.3" cy="403.2" r="2" fill="#000" fill-opacity="0.21"/>
<circle cx="632.9" cy="408.9" r="2" fill="#000" fill-opacity="0.21"/>
<circle cx="632.9" cy="424.3" r="2" fill="#000" fill-opacity="0.21"/>
<circle cx="633.4" cy="426.9" r="2" fill="#000" fill-opacity="0.21"/>
<circle cx="629.4" cy="431.8" r="2" fill="#000" fill-opacity="0.21"/>
<circle cx="635.1" cy="431.3" r="2" fill="#000" fill-opacity="0.21"/>
<circle cx="629.8" cy="448.4" r="2" fill="#000" fill-opacity="0.21"/>
<circle cx="635.4" cy="449.7" r="2" fill="#000" fill-opacity="0.21"/>
<circle cx="630.3" cy="469.1" r="2" fill="#000" fill-opacity="0.21"/>
<circle cx="628.4" cy="491.1" r="2" fill="#000" fill-opacity="0.21"/>
<circle cx="625.3" cy="522.3" r="2" fill="#000" fill-opacity="0.21"/>
<circle cx="664" cy="369" r="2" fill="#000" fill-opacity="0.21"/>
<circle cx="659.2" cy="375.6" r="2" fill="#000" fill-opacity="0.21"/>
<circle cx="664.9" cy="375.2" r="2" fill="#000" fill-opacity="0.21"/>
<circle cx="669.8" cy="374.3" r="2" fill="#000" fill-opacity="0.21"/>
<circle cx="665.8" cy="383.1" r="2" fill="#000" fill-opacity="0.21"/>
<circle cx="661.9" cy="387" r="2" fill="#000" fill-opacity="0.21"/>
<circle cx="668" cy="387.9" r="2" fill="#000" fill-opacity="0.21"/>
<circle cx="659.7" cy="391.4" r="2" fill="#000" fill-opacity="0.21"/>
<circle cx="663.2" cy="394.5" r="2" fill="#000" fill-opacity="0.21"/>
<circle cx="665.8" cy="398" r="2" fill="#000" fill-opacity="0.21"/>
<circle cx="661" cy="400.6" r="2" fill="#000" fill-opacity="0.21"/>
<circle cx="667.6" cy="403.2" r="2" fill="#000" fill-opacity="0.21"/>
<circle cx="662.7" cy="406.7" r="2" fill="#000" fill-opacity="0.21"/>
<circle cx="659.2" cy="409.4" r="2" fill="#000" fill-opacity="0.21"/>
<circle cx="667.1" cy="409.8" r="2" fill="#000" fill-opacity="0.21"/>
<circle cx="665.4" cy="412" r="2" fill="#000" fill-opacity="0.21"/>
<circle cx="668.4" cy="412.5" r="2" fill="#000" fill-opacity="0.21"/>
<circle cx="665.4" cy="419.5" r="2" fill="#000" fill-opacity="0.21"/>
<circle cx="665.8" cy="426.5" r="2" fill="#000" fill-opacity="0.21"/>
<circle cx="660.5" cy="430.9" r="2" fill="#000" fill-opacity="0.21"/>
<circle cx="665.8" cy="431.8" r="2" fill="#000" fill-opacity="0.21"/>
<circle cx="667.6" cy="486.6" r="2" fill="#000" fill-opacity="0.21"/>
<rect x="625" y="383" width="15.4" height="47.6" fill="#e36f55" fill-opacity="0.8"/>
<rect x="655.9" y="378" width="15.6" height="32.2" fill="#1a90fa" fill-opacity="0.8"/>
<rect x="625" y="405.5" width="15.4" height="1.5" fill="#fff"/>
<rect x="655.9" y="392.7" width="15.6" height="1.5" fill="#fff"/>
<path d="M632.5,370.5 V383 M632.5,430.6 V491.1 M628.1,370.5 H636.9 M627.8,491.1 H636.8" stroke="#2a2a2a" stroke-width="1.1" fill="none"/>
<path d="M663.6,369.5 V378 M663.6,410.2 V431.3 M659.3,369.5 H668.1 M659.2,431.3 H668" stroke="#2a2a2a" stroke-width="1.1" fill="none"/>
</svg></body></html>
